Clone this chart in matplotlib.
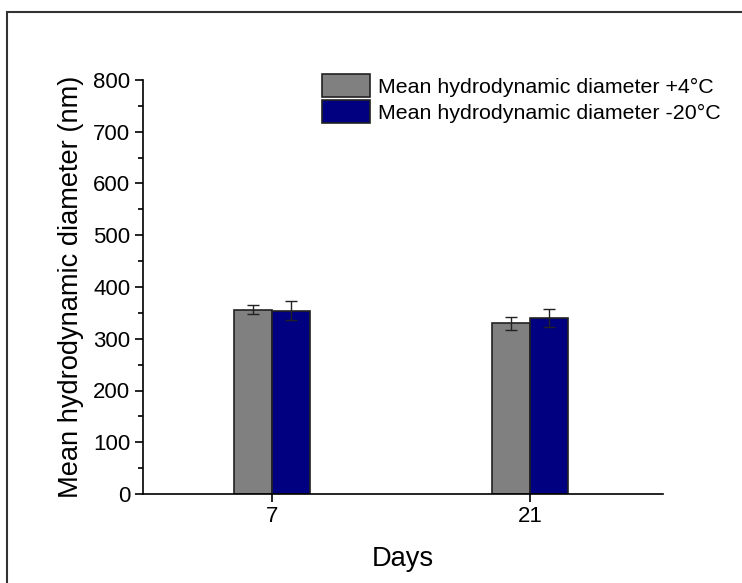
import matplotlib
matplotlib.use("Agg")
import matplotlib.pyplot as plt
import numpy as np
from matplotlib.patches import Rectangle
from matplotlib.ticker import MultipleLocator

plt.rcParams['font.family'] = ['Liberation Sans', 'DejaVu Sans']

days = ["7", "21"]
series_names = ["Mean hydrodynamic diameter +4°C", "Mean hydrodynamic diameter -20°C"]
values_p4 = [356, 330]
errors_p4 = [9, 12.5]
values_m20 = [354, 340]
errors_m20 = [18.5, 17]
colors = ["#808080", "#000080"]
ylabel = "Mean hydrodynamic diameter (nm)"
xlabel = "Days"

fig = plt.figure(figsize=(7.42, 5.83), dpi=100)
ax = fig.add_axes([143/742, 1-494/583, (663-143)/742, (494-80)/583])

x = np.arange(len(days))
w = 0.148
ekw = dict(ecolor="#222222", elinewidth=1, capsize=4.5, capthick=1)
ax.bar(x - w/2, values_p4, w, yerr=errors_p4, color=colors[0], edgecolor="#222222",
       linewidth=1.2, label=series_names[0], error_kw=ekw)
ax.bar(x + w/2, values_m20, w, yerr=errors_m20, color=colors[1], edgecolor="#222222",
       linewidth=1.2, label=series_names[1], error_kw=ekw)

ax.set_xlim(-0.5, 1.515)
ax.set_ylim(0, 800)
ax.set_xticks(x)
ax.set_xticklabels(days)
ax.yaxis.set_major_locator(MultipleLocator(100))
ax.yaxis.set_minor_locator(MultipleLocator(50))
ax.spines['top'].set_visible(False)
ax.spines['right'].set_visible(False)
for s in ['left', 'bottom']:
    ax.spines[s].set_linewidth(1.2)
ax.tick_params(axis='both', which='major', direction='out', length=6, width=1.2,
               labelsize=16, pad=3)
ax.tick_params(axis='y', which='minor', direction='out', length=3.5, width=1.2)
ax.set_ylabel(ylabel, fontsize=19.6, labelpad=7)
ax.set_xlabel(xlabel, fontsize=19.6, labelpad=13)

leg = ax.legend(loc='upper left', bbox_to_anchor=((322-143)/520, (494-74)/414),
                frameon=False, fontsize=15.4,
                handlelength=2.25, handleheight=1.28, labelspacing=0.14, handletextpad=0.35,
                borderaxespad=0, borderpad=0)
for h in leg.legend_handles:
    h.set_edgecolor("#222222")

fig.patches.append(Rectangle((7/742, -0.1), 1.2, 1.1 - 12/583,
                             transform=fig.transFigure, fill=False,
                             edgecolor="#333333", linewidth=1.5))
fig.savefig("out.png", dpi=100)
